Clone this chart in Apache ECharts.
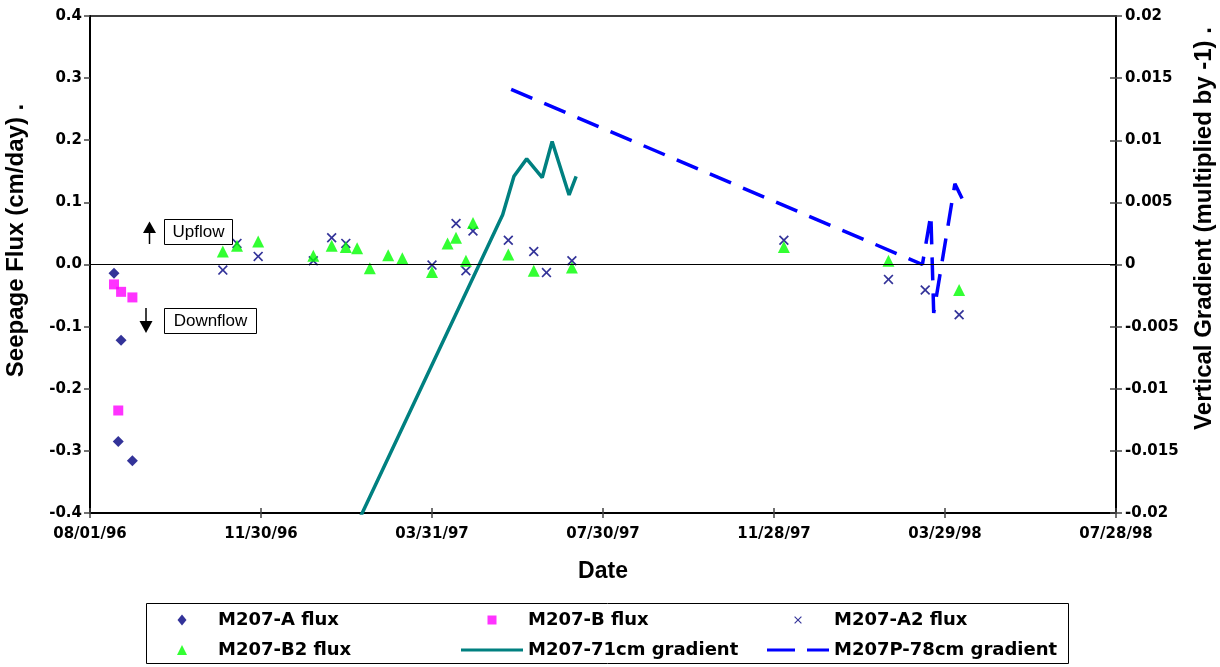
<!DOCTYPE html>
<html>
<head>
<meta charset="utf-8">
<script src="https://cdn.jsdelivr.net/npm/echarts@6/dist/echarts.min.js"></script>
<style>
html,body{margin:0;padding:0;background:#fff;}
#chart{width:1220px;height:667px;}
</style>
</head>
<body>
<div id="chart"></div>
<script>
// ---- Data (dates as MM/DD/YY) ----
var aFluxDates = ['08/18/96', '08/21/96', '08/23/96', '08/31/96'];
var aFluxValues = [-0.014, -0.285, -0.122, -0.316];

var bFluxDates = ['08/18/96', '08/21/96', '08/23/96', '08/31/96'];
var bFluxValues = [-0.032, -0.235, -0.044, -0.053];

var a2FluxDates = ['11/03/96', '11/13/96', '11/28/96', '01/06/97', '01/19/97', '01/29/97',
  '03/31/97', '04/17/97', '04/24/97', '04/29/97', '05/24/97', '06/11/97', '06/20/97',
  '07/08/97', '12/05/97', '02/17/98', '03/15/98', '04/08/98'];
var a2FluxValues = [-0.009, 0.034, 0.013, 0.006, 0.043, 0.034,
  -0.001, 0.066, -0.010, 0.054, 0.039, 0.021, -0.013,
  0.006, 0.039, -0.024, -0.041, -0.081];

var b2FluxDates = ['11/03/96', '11/13/96', '11/28/96', '01/06/97', '01/19/97', '01/29/97',
  '02/06/97', '02/15/97', '02/28/97', '03/10/97', '03/31/97', '04/11/97', '04/17/97',
  '04/24/97', '04/29/97', '05/24/97', '06/11/97', '07/08/97', '12/05/97', '02/17/98', '04/08/98'];
var b2FluxValues = [0.021, 0.030, 0.037, 0.014, 0.030, 0.028,
  0.026, -0.006, 0.015, 0.010, -0.012, 0.034, 0.043,
  0.006, 0.067, 0.016, -0.010, -0.005, 0.028, 0.006, -0.041];

var grad71Dates = ['12/29/96', '05/20/97', '05/28/97', '06/06/97', '06/17/97', '06/24/97', '07/06/97', '07/11/97'];
var grad71Values = [-0.0303, 0.0040, 0.0071, 0.0085, 0.0070, 0.0099, 0.0056, 0.0071];

var grad78Dates = ['05/26/97', '03/13/98', '03/19/98', '03/21/98', '04/05/98', '04/11/98'];
var grad78Values = [0.0141, 0.0000, 0.0040, -0.0039, 0.0065, 0.0051];

var xTickStart = '08/01/96';
var xTickStepDays = 121;
var xTickCount = 6;
var leftTicks = [-0.4, 0.4, 0.1];
var rightTicks = [-0.02, 0.02, 0.005];

// ---- helpers ----
function parseDate(s) {
  var p = s.split('/');
  return Date.UTC(1900 + (+p[2] < 50 ? 100 : 0) + (+p[2]), +p[0] - 1, +p[1]);
}
var base = parseDate(xTickStart);
var DAY = 86400000;
function dayOf(s) { return Math.round((parseDate(s) - base) / DAY); }
function fmtDate(v) {
  var d = new Date(base + v * DAY);
  var mm = ('0' + (d.getUTCMonth() + 1)).slice(-2);
  var dd = ('0' + d.getUTCDate()).slice(-2);
  var yy = ('0' + (d.getUTCFullYear() % 100)).slice(-2);
  return mm + '/' + dd + '/' + yy;
}
function pairs(dates, vals) { return dates.map(function (d, i) { return [dayOf(d), vals[i]]; }); }

var tickFont = { fontFamily: 'DejaVu Sans', fontWeight: 'bold', fontSize: 15, color: '#000' };
var titleFontV = { fontFamily: 'Liberation Sans', fontWeight: 'bold', fontSize: 24, color: '#000' };
var legendText = { fontFamily: 'DejaVu Sans', fontWeight: 'bold', fontSize: 18, color: '#000' };

var crossPath = 'path://M0,1.2L1.2,0L5,3.8L8.8,0L10,1.2L6.2,5L10,8.8L8.8,10L5,6.2L1.2,10L0,8.8L3.8,5Z';

// legend icons: 62 x 12 box, glyph centred (bounding corners set by lone moveTo points)
var lgBox = 'M0,0M62,12';
var lgDiamond = 'path://' + lgBox + 'M31,0.5L35.5,6L31,11.5L26.5,6Z';
var lgSquare = 'path://' + lgBox + 'M26.5,1.5L35.5,1.5L35.5,10.5L26.5,10.5Z';
var lgCross = 'path://' + lgBox + 'M27.2,3L28,2.2L31,5.2L34,2.2L34.8,3L31.8,6L34.8,9L34,9.8L31,6.8L28,9.8L27.2,9L30.2,6Z';
var lgTriangle = 'path://' + lgBox + 'M31,1L36,11L26,11Z';
var lgLine = 'path://' + lgBox + 'M0,4.5L62,4.5L62,7.5L0,7.5Z';
var lgDash = 'path://' + lgBox + 'M0,4.5L28,4.5L28,7.5L0,7.5Z M40,4.5L62,4.5L62,7.5L40,7.5Z';

var gridRect = { left: 90, right: 104, top: 16, bottom: 154, outerBoundsMode: 'none', containLabel: false };
var xMax = xTickStepDays * xTickCount;

function mkLegend(name, icon, left, top) {
  return {
    data: [{ name: name, icon: icon }], left: left, top: top, orient: 'horizontal',
    itemWidth: 62, itemHeight: 12, itemGap: 0, symbolKeepAspect: false,
    textStyle: legendText, selectedMode: false, padding: 0
  };
}

var option = {
  animation: false,
  backgroundColor: '#fff',
  grid: [
    Object.assign({ show: true, borderColor: '#000', borderWidth: 1.5, backgroundColor: 'transparent' }, gridRect),
    Object.assign({ show: false }, gridRect)
  ],
  xAxis: [{
    type: 'value', gridIndex: 0, min: 0, max: xMax, interval: xTickStepDays,
    name: 'Date', nameLocation: 'middle', nameGap: 47,
    nameTextStyle: { fontFamily: 'Liberation Sans', fontWeight: 'bold', fontSize: 23, color: '#000' },
    axisLine: { show: true, onZero: false, lineStyle: { color: '#000', width: 2 } },
    axisTick: { show: true, inside: false, length: 5, lineStyle: { color: '#444', width: 1.5 } },
    axisLabel: Object.assign({ formatter: fmtDate, margin: 14 }, tickFont),
    splitLine: { show: false }
  }, {
    type: 'value', gridIndex: 1, min: 0, max: xMax, interval: xTickStepDays,
    axisLine: { show: false, onZero: false },
    axisTick: { show: true, inside: true, length: 5, lineStyle: { color: '#444', width: 1.5 } },
    axisLabel: { show: false }, splitLine: { show: false }
  }],
  yAxis: [{
    type: 'value', gridIndex: 0, position: 'left', min: leftTicks[0], max: leftTicks[1], interval: leftTicks[2],
    name: 'Seepage Flux (cm/day) .', nameLocation: 'middle', nameGap: 62, nameRotate: 90,
    nameTextStyle: Object.assign({ padding: [0, 0, 0, 48] }, titleFontV),
    axisLine: { show: true, onZero: false, lineStyle: { color: '#000', width: 2 } },
    axisTick: { show: true, inside: false, length: 6, lineStyle: { color: '#444', width: 1.5 } },
    axisLabel: Object.assign({ formatter: function (v) { return v.toFixed(1); }, margin: 8 }, tickFont),
    splitLine: { show: false }
  }, {
    type: 'value', gridIndex: 0, position: 'right', min: rightTicks[0], max: rightTicks[1], interval: rightTicks[2],
    name: 'Vertical Gradient (multiplied by -1) .', nameLocation: 'middle', nameGap: 76, nameRotate: 90,
    nameTextStyle: Object.assign({ padding: [0, 0, 0, 72] }, titleFontV),
    axisLine: { show: true, onZero: false, lineStyle: { color: '#000', width: 2 } },
    axisTick: { show: true, inside: false, length: 6, lineStyle: { color: '#444', width: 1.5 } },
    axisLabel: Object.assign({ formatter: function (v) { return String(parseFloat(v.toFixed(4))); }, margin: 9 }, tickFont),
    splitLine: { show: false }
  }, {
    type: 'value', gridIndex: 1, position: 'right', min: rightTicks[0], max: rightTicks[1], interval: rightTicks[2],
    axisLine: { show: false, onZero: false },
    axisTick: { show: true, inside: true, length: 6, lineStyle: { color: '#444', width: 1.5 } },
    axisLabel: { show: false }, splitLine: { show: false }
  }],
  legend: [
    mkLegend('M207-A flux', lgDiamond, 151, 611),
    mkLegend('M207-B flux', lgSquare, 461, 611),
    mkLegend('M207-A2 flux', lgCross, 767, 611),
    mkLegend('M207-B2 flux', lgTriangle, 151, 641),
    mkLegend('M207-71cm gradient', lgLine, 461, 641),
    mkLegend('M207P-78cm gradient', lgDash, 767, 641)
  ],
  graphic: [
    { type: 'rect', shape: { x: 146.5, y: 603.5, width: 922, height: 60 }, style: { fill: 'none', stroke: '#000', lineWidth: 1 }, silent: true },
    // Upflow annotation
    { type: 'rect', shape: { x: 164.5, y: 219.5, width: 68, height: 25 }, style: { fill: '#fff', stroke: '#000', lineWidth: 1 }, z: 50 },
    { type: 'text', x: 198.5, y: 232, style: { text: 'Upflow', fontFamily: 'Liberation Sans', fontSize: 17, fill: '#000', align: 'center', verticalAlign: 'middle' }, z: 51 },
    { type: 'line', shape: { x1: 149.5, y1: 244, x2: 149.5, y2: 228 }, style: { stroke: '#000', lineWidth: 1.5 }, z: 50 },
    { type: 'polygon', shape: { points: [[149.5, 221.5], [143, 233], [156, 233]] }, style: { fill: '#000' }, z: 50 },
    // Downflow annotation
    { type: 'rect', shape: { x: 164.5, y: 308.5, width: 92, height: 25 }, style: { fill: '#fff', stroke: '#000', lineWidth: 1 }, z: 50 },
    { type: 'text', x: 210.5, y: 321, style: { text: 'Downflow', fontFamily: 'Liberation Sans', fontSize: 17, fill: '#000', align: 'center', verticalAlign: 'middle' }, z: 51 },
    { type: 'line', shape: { x1: 146, y1: 308, x2: 146, y2: 325 }, style: { stroke: '#000', lineWidth: 1.5 }, z: 50 },
    { type: 'polygon', shape: { points: [[146, 333], [139.5, 321], [152.5, 321]] }, style: { fill: '#000' }, z: 50 }
  ],
  series: [
    {
      name: 'M207-71cm gradient', type: 'line', xAxisIndex: 0, yAxisIndex: 1,
      data: pairs(grad71Dates, grad71Values), symbol: 'none', clip: true,
      lineStyle: { color: '#008080', width: 3.5 }, itemStyle: { color: '#008080' }, z: 2
    },
    {
      name: 'M207P-78cm gradient', type: 'line', xAxisIndex: 0, yAxisIndex: 1,
      data: pairs(grad78Dates, grad78Values), symbol: 'none', clip: true,
      lineStyle: { color: '#0000FF', width: 3.5, type: [23, 13] }, itemStyle: { color: '#0000FF' }, z: 2
    },
    {
      name: 'M207-A flux', type: 'scatter', xAxisIndex: 0, yAxisIndex: 0,
      data: pairs(aFluxDates, aFluxValues), symbol: 'diamond', symbolSize: 11,
      itemStyle: { color: '#000080' }, z: 3,
      markLine: {
        silent: true, symbol: 'none', label: { show: false },
        lineStyle: { color: '#000', type: 'solid', width: 1.2 },
        data: [{ yAxis: 0 }]
      }
    },
    {
      name: 'M207-B flux', type: 'scatter', xAxisIndex: 0, yAxisIndex: 0,
      data: pairs(bFluxDates, bFluxValues), symbol: 'rect', symbolSize: 10,
      itemStyle: { color: '#FF00FF' }, z: 3
    },
    {
      name: 'M207-A2 flux', type: 'scatter', xAxisIndex: 0, yAxisIndex: 0,
      data: pairs(a2FluxDates, a2FluxValues), symbol: crossPath, symbolSize: 10,
      itemStyle: { color: '#000080' }, z: 3
    },
    {
      name: 'M207-B2 flux', type: 'scatter', xAxisIndex: 0, yAxisIndex: 0,
      data: pairs(b2FluxDates, b2FluxValues), symbol: 'triangle', symbolSize: 12,
      itemStyle: { color: '#00FF00' }, z: 3
    }
  ]
};

var chart = echarts.init(document.getElementById('chart'), null, { renderer: 'canvas' });
chart.setOption(option);
</script>
</body>
</html>
